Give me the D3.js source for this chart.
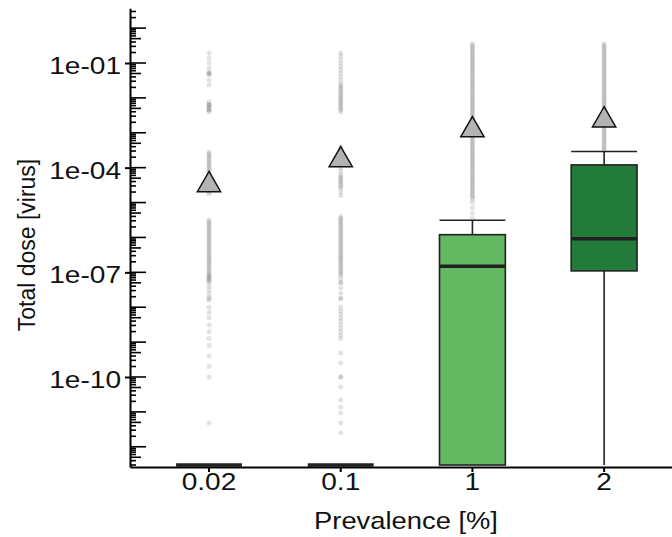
<!DOCTYPE html>
<html><head><meta charset="utf-8">
<script src="https://cdn.jsdelivr.net/npm/d3@7"></script>
<style>
body{margin:0;background:#fff;}
svg{display:block;font-family:"Liberation Sans",Arial,sans-serif;}
</style></head>
<body><svg id="c" width="672" height="537"></svg>
<script>
// ---------------- data ----------------
const categories = ["0.02", "0.1", "1", "2"];
const boxColors = ["#63b862", "#63b862", "#63b862", "#227b38"];
const whiskerLow = [3e-13, 3e-13, 3e-13, 3e-13];
const boxQ1 = [3e-13, 3e-13, 3e-13, 1.1e-7];
const boxMedian = [3e-13, 3e-13, 1.5e-7, 9.1e-7];
const boxQ3 = [3e-13, 3e-13, 1.2e-6, 1.2e-4];
const whiskerHigh = [3e-13, 3e-13, 3.1e-6, 2.9e-4];
const meanDose = [3.2e-5, 1.66e-4, 1.2e-3, 2.3e-3];
const yTickValues = [1e-1, 1e-4, 1e-7, 1e-10];
const yTickLabels = ["1e-01", "1e-04", "1e-07", "1e-10"];
const xTitle = "Prevalence [%]";
const yTitle = "Total dose [virus]";

// individual simulated doses (log10 of dose)
const pointsLog_002 = [-0.71,-0.86,-1.0,-1.14,-1.26,-1.3,-1.3,-1.34,-1.49,-1.63,
  -2.12,-2.18,-2.2,-2.22,-2.26,-2.3,-2.35,-2.35,-2.4,
  -3.55,-3.6,-3.65,-3.7,-3.75,-3.8,-3.85,-3.9,-3.95,-4.0,-4.05,-4.1,-4.15,-4.2,-4.25,-4.3,-4.35,-4.4,-4.45,-4.5,-4.55,-4.6,-4.65,-4.7,-4.75,
  -5.5,-5.55,-5.6,-5.65,-5.7,-5.75,-5.8,-5.85,-5.9,-5.95,-6.0,-6.05,-6.1,-6.15,-6.2,-6.25,-6.3,-6.35,-6.4,-6.45,-6.5,-6.55,-6.6,-6.65,-6.7,-6.75,-6.8,-6.85,-6.9,-6.95,-7.0,-7.05,-7.1,-7.15,-7.2,-7.25,-7.3,
  -7.1,-7.2,-7.4,-7.5,-7.6,-7.7,-7.75,-7.8,
  -8.0,-8.15,-8.3,-8.5,-8.7,-8.9,-9.1,-9.4,-9.7,-10.0,-11.32];
const pointsLog_01 = [-0.71,-0.8,-0.9,-1.0,-1.1,-1.2,-1.3,-1.4,-1.5,-1.6,-1.7,-1.8,-1.9,-2.0,-2.1,-2.2,-2.3,-2.4,
  -1.65,-1.75,-1.85,-1.95,-2.05,-2.15,-2.25,-2.35,
  -3.4,-3.5,-3.6,-3.7,-3.8,-3.9,-4.0,-4.1,-4.2,-4.3,-4.4,-4.5,-4.6,-4.7,-4.8,-4.25,-4.35,-4.45,-4.55,
  -5.4,-5.45,-5.5,-5.55,-5.6,-5.65,-5.7,-5.75,-5.8,-5.85,-5.9,-5.95,-6.0,-6.05,-6.1,-6.15,-6.2,-6.25,-6.3,-6.35,-6.4,-6.45,-6.5,-6.55,-6.6,-6.65,-6.7,-6.75,-6.8,-6.85,-6.9,-6.95,-7.0,-7.05,-7.1,
  -7.2,-7.3,-7.3,-7.45,-7.6,-7.75,-7.75,
  -8.0,-8.1,-8.2,-8.3,-8.4,-8.5,-8.6,-8.7,-8.8,-8.9,
  -9.31,-9.6,-10.0,-10.0,-10.29,-10.66,-10.86,-11.03,-11.32,-11.6];
const pointsLog_1 = [-0.45,-0.5,-0.55,-0.6,-0.65,-0.7,-0.75,-0.8,-0.85,-0.9,-0.95,-1.0,-1.05,-1.1,-1.15,-1.2,-1.25,-1.3,-1.35,-1.4,-1.45,-1.5,-1.55,-1.6,-1.65,-1.7,-1.75,-1.8,-1.85,-1.9,-1.95,-2.0,-2.05,-2.1,-2.15,-2.2,-2.25,-2.3,-2.35,-2.4,-2.45,-2.5,-2.55,-2.6,-2.65,-2.7,-2.75,-2.8,-2.85,-2.9,-2.95,-3.0,-3.05,-3.1,-3.15,-3.2,-3.25,-3.3,-3.35,-3.4,-3.45,-3.5,-3.55,-3.6,-3.65,-3.7,-3.75,-3.8,-3.85,-3.9,-3.95,-4.0,-4.05,-4.1,-4.15,-4.2,-4.25,-4.3,-4.35,-4.4,-4.45,-4.5,-4.55,-4.6,-4.65,-4.7,-4.75,-4.8,-4.85,-4.9,
  -5.0,-5.15,-5.3,-5.45];
const pointsLog_2 = [-0.45,-0.5,-0.55,-0.6,-0.65,-0.7,-0.75,-0.8,-0.85,-0.9,-0.95,-1.0,-1.05,-1.1,-1.15,-1.2,-1.25,-1.3,-1.35,-1.4,-1.45,-1.5,-1.55,-1.6,-1.65,-1.7,-1.75,-1.8,-1.85,-1.9,-1.95,-2.0,-2.05,-2.1,-2.15,-2.2,-2.25,-2.3,-2.35,-2.4,-2.45,-2.5,-2.55,-2.6,-2.65,-2.7,-2.75,-2.8,-2.85,-2.9,-2.95,-3.0,-3.05,-3.1,-3.15,-3.2,-3.25,-3.3,-3.35,-3.4,-3.45,-3.5];
const pointSets = [pointsLog_002, pointsLog_01, pointsLog_1, pointsLog_2];

// ---------------- layout ----------------
const svg = d3.select("#c");
const panelLeft = 130, panelBottom = 467, panelTop = 8.3;
const stepPx = 131.7;
const x = d3.scaleBand().domain(categories)
  .range([panelLeft, panelLeft + 4.2 * stepPx]).paddingInner(0).paddingOuter(0.1);
const y = d3.scaleLog().domain([Math.pow(10, -12.58), Math.pow(10, 0.568)])
  .range([panelBottom, panelTop]);
const cx = c => x(c) + x.bandwidth() / 2;
const boxW = x.bandwidth() * 0.5;
const stretch = 1.17;

// points
const pts = [];
categories.forEach((c, i) => pointSets[i].forEach(v => pts.push({c, v: Math.pow(10, v)})));
svg.append("g").selectAll("circle").data(pts).join("circle")
  .attr("cx", d => cx(d.c)).attr("cy", d => y(d.v)).attr("r", 2.5)
  .attr("fill", "#666").attr("fill-opacity", 0.18);

// boxplots
const boxes = categories.map((c, i) => ({c, lo: whiskerLow[i], q1: boxQ1[i], med: boxMedian[i], q3: boxQ3[i], hi: whiskerHigh[i], fill: boxColors[i]}));
const bg = svg.append("g");
boxes.forEach(b => {
  const X = cx(b.c);
  // whiskers
  bg.append("line").attr("x1", X).attr("x2", X).attr("y1", y(b.q3)).attr("y2", y(b.hi))
    .attr("stroke", "#222").attr("stroke-width", 1.6);
  bg.append("line").attr("x1", X).attr("x2", X).attr("y1", y(b.q1)).attr("y2", y(b.lo))
    .attr("stroke", "#222").attr("stroke-width", 1.6);
  if (b.hi > b.q3) {
    bg.append("line").attr("x1", X - boxW / 2).attr("x2", X + boxW / 2)
      .attr("y1", y(b.hi)).attr("y2", y(b.hi)).attr("stroke", "#222").attr("stroke-width", 1.6);
  }
  bg.append("rect").attr("x", X - boxW / 2).attr("width", boxW)
    .attr("y", y(b.q3)).attr("height", Math.max(0, y(b.q1) - y(b.q3)))
    .attr("fill", b.fill).attr("stroke", "#222").attr("stroke-width", 1.6);
  bg.append("line").attr("x1", X - boxW / 2).attr("x2", X + boxW / 2)
    .attr("y1", y(b.med)).attr("y2", y(b.med)).attr("stroke", "#222").attr("stroke-width", 3.5);
});

// means (triangles)
svg.append("g").selectAll("path").data(categories).join("path")
  .attr("transform", (c, i) => `translate(${cx(c)},${y(meanDose[i])})`)
  .attr("d", d3.symbol().type(d3.symbolTriangle).size(235))
  .attr("fill", "#b3b3b3").attr("stroke", "#111").attr("stroke-width", 1.5);

// log ticks inside panel
const logTicks = [];
for (let k = -13; k <= 0; k++) for (let m = 1; m <= 9; m++) {
  const v = m * Math.pow(10, k);
  if (y(v) <= panelBottom + 0.1 && y(v) >= panelTop - 0.1) logTicks.push({v, len: m === 1 ? 16 : (m === 5 ? 11 : 6)});
}
svg.append("g").selectAll("line").data(logTicks).join("line")
  .attr("x1", panelLeft).attr("x2", d => panelLeft + d.len)
  .attr("y1", d => y(d.v)).attr("y2", d => y(d.v))
  .attr("stroke", "#000").attr("stroke-width", 1.6);

// y axis
const yAxis = svg.append("g").attr("transform", `translate(${panelLeft},0)`)
  .call(d3.axisLeft(y).tickValues(yTickValues).tickFormat((d, i) => yTickLabels[i])
    .tickSize(5).tickSizeOuter(0).tickPadding(4));
yAxis.select(".domain").attr("stroke-width", 2);
yAxis.selectAll(".tick line").attr("stroke-width", 2);
yAxis.selectAll(".tick text").attr("x", 0).attr("dy", "0.44em")
  .attr("transform", `translate(-9,0) scale(${stretch},1)`)
  .attr("font-size", 24).attr("fill", "#111").attr("font-family", null);

// x axis
const xAxis = svg.append("g").attr("transform", `translate(0,${panelBottom})`)
  .call(d3.axisBottom(x).tickSize(5).tickSizeOuter(0));
xAxis.select(".domain").attr("stroke-width", 2);
xAxis.selectAll(".tick line").attr("stroke-width", 2);
xAxis.selectAll(".tick text").attr("y", 23).attr("dy", 0)
  .attr("transform", `scale(${stretch},1)`)
  .attr("font-size", 24).attr("fill", "#111").attr("font-family", null);

// titles
svg.append("text").attr("text-anchor", "middle")
  .attr("transform", `translate(406,529) scale(${stretch - 0.03},1)`)
  .attr("font-size", 24).attr("fill", "#111").text(xTitle);
svg.append("text").attr("text-anchor", "middle")
  .attr("transform", `translate(35,245) rotate(-90) scale(1,1.08)`)
  .attr("font-size", 23).attr("fill", "#111").text(yTitle);
</script></body></html>
